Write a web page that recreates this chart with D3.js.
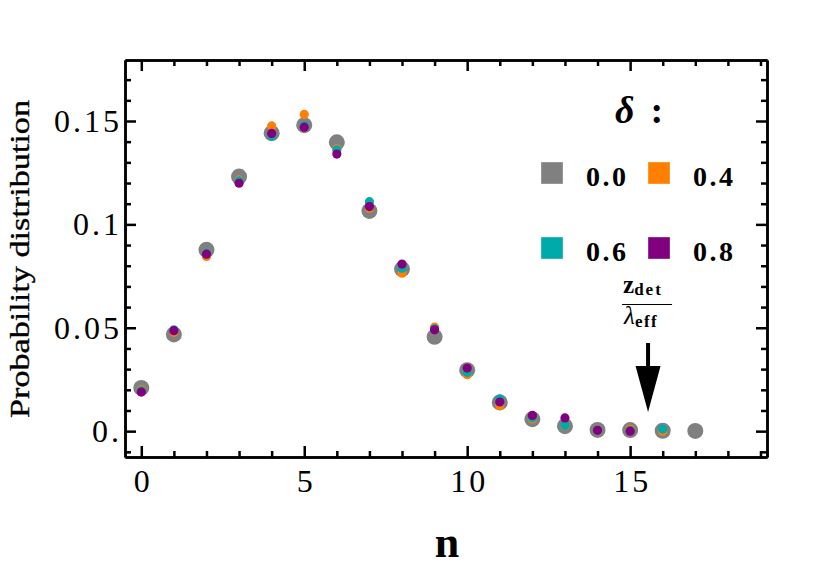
<!DOCTYPE html>
<html lang="en">
<head>
	<meta charset="utf-8">
	<title>Probability distribution</title>
	<script src="https://cdn.jsdelivr.net/npm/d3@7/dist/d3.min.js"></script>
	<style>
		body { margin: 0; background: #fff; }
	</style>
</head>
<body>
<script>

	// Data
	var nGray   = d3.range(0, 18);
	var pGray   = [0.0209, 0.0468, 0.0877, 0.1231, 0.1441, 0.1480, 0.1397, 0.1065, 0.0784, 0.0456,
	               0.0295, 0.0139, 0.0058, 0.0024, 0.0006, 0.0005, 0.0002, 0.0001];
	var pOrange = [0.0200, 0.0478, 0.0845, 0.1215, 0.1476, 0.1532, 0.1365, 0.1078, 0.0764, 0.0503,
	               0.0273, 0.0123, 0.0059, 0.0025, 0.0004, 0.0009, 0.0000];
	var pCyan   = [0.0195, 0.0490, 0.0860, 0.1210, 0.1428, 0.1477, 0.1360, 0.1110, 0.0788, 0.0495,
	               0.0284, 0.0156, 0.0065, 0.0027, 0.0004, 0.0003, 0.0010];
	var pPurple = [0.0189, 0.0486, 0.0856, 0.1199, 0.1440, 0.1470, 0.1340, 0.1086, 0.0808, 0.0490,
	               0.0305, 0.0141, 0.0076, 0.0064, 0.0004, 0.0000];

	var deltaLabels = ["0.0", "0.4", "0.6", "0.8"];
	var seriesColors = ["#808080", "#ff8000", "#00aaaa", "#800080"];

	var xMajor = [0, 5, 10, 15];
	var yMajor = [0, 0.05, 0.1, 0.15];
	var yLabels = ["0.", "0.05", "0.1", "0.15"];
	var arrowN = 15.55;

	var serif = "'Liberation Serif', 'DejaVu Serif', serif";

	// Canvas
	var width = 830, height = 578;
	var frame = {left: 125, right: 767, top: 60, bottom: 457};

	var svg = d3.select("body")
				.append("svg")
				.attr("width", width)
				.attr("height", height)
				.attr("font-family", serif);

	var xScale = d3.scaleLinear().domain([-0.5, 19.2]).range([frame.left, frame.right]);
	var yScale = d3.scaleLinear().domain([-0.0125, 0.1795]).range([frame.bottom, frame.top]);

	var xMinor = d3.range(0, 20).filter(function(d) { return xMajor.indexOf(d) < 0; });
	var yMinor = d3.range(-1, 18).filter(function(d) { return d % 5 !== 0; })
				.map(function(d) { return d / 100; });

	// Draws one side of the frame: major + minor ticks pointing inward
	function drawSide(axisFn, scale, pos, majors, minors, labels) {
		var major = axisFn(scale).tickValues(majors).tickSize(-11).tickSizeOuter(0)
					.tickPadding(labels ? 13 : 0)
					.tickFormat(function(d, i) { return labels ? labels[i] : ""; });
		var minor = axisFn(scale).tickValues(minors).tickSize(-6).tickSizeOuter(0).tickFormat("");
		var g = svg.append("g").attr("transform", pos);
		g.call(minor);
		g.append("g").call(major);
		g.attr("font-family", null);
		g.selectAll("g").attr("font-family", null);
		g.selectAll("path, line").attr("stroke", "#000").attr("stroke-width", 2.5);
		g.selectAll("text").attr("font-size", 32).attr("font-family", serif)
			.attr("letter-spacing", 3);
		return g;
	}

	var gx = drawSide(d3.axisBottom, xScale, "translate(0," + frame.bottom + ")", xMajor, xMinor,
			xMajor.map(String));
	gx.selectAll("text").attr("dx", 1.5).attr("y", 12);
	drawSide(d3.axisTop, xScale, "translate(0," + frame.top + ")", xMajor, xMinor, null);
	var gy = drawSide(d3.axisLeft, yScale, "translate(" + frame.left + ",0)", yMajor, yMinor, yLabels);
	gy.selectAll("text").attr("x", -3);
	drawSide(d3.axisRight, yScale, "translate(" + frame.right + ",0)", yMajor, yMinor, null);

	// Points: gray large ones, then small coloured ones on top
	var allSeries = [pGray, pOrange, pCyan, pPurple];
	allSeries.forEach(function(vals, s) {
		svg.append("g")
			.selectAll("circle")
			.data(vals)
			.enter()
				.append("circle")
				.attr("cx", function(d, i) { return xScale(nGray[i]); })
				.attr("cy", function(d) { return yScale(d); })
				.attr("r", s === 0 ? 8 : 4.6)
				.attr("fill", seriesColors[s]);
	});

	// Axis titles
	svg.append("text")
		.attr("transform", "translate(29,259) rotate(-90)")
		.attr("text-anchor", "middle")
		.attr("font-size", 28)
		.attr("stroke", "#000")
		.attr("stroke-width", 0.35)
		.attr("textLength", 318)
		.attr("lengthAdjust", "spacingAndGlyphs")
		.text("Probability distribution");

	svg.append("text")
		.attr("x", (frame.left + frame.right) / 2 + 1)
		.attr("y", 557)
		.attr("text-anchor", "middle")
		.attr("font-size", 44)
		.attr("font-weight", "bold")
		.text("n");

	// Legend
	var head = svg.append("text")
		.attr("x", 615)
		.attr("y", 123)
		.attr("font-size", 38)
		.attr("font-weight", "bold");
	head.append("tspan").attr("font-style", "italic").text("\u03b4");
	head.append("tspan").attr("dx", 16).text(":");

	var legend = svg.append("g").selectAll("g")
		.data(deltaLabels)
		.enter()
			.append("g")
			.attr("transform", function(d, i) {
				return "translate(" + (541 + (i % 2) * 107) + "," + (162 + Math.floor(i / 2) * 75) + ")";
			});
	legend.append("rect")
		.attr("width", 22).attr("height", 22)
		.attr("fill", function(d, i) { return seriesColors[i]; })
		.attr("stroke", "#fff").attr("stroke-opacity", 0.35).attr("stroke-width", 1);
	legend.append("text")
		.attr("x", 45).attr("y", 24)
		.attr("font-size", 28)
		.attr("font-weight", "bold")
		.attr("letter-spacing", 2.5)
		.text(function(d) { return d; });

	// z_det / lambda_eff annotation with arrow
	var ax = xScale(arrowN);
	var ann = svg.append("g");
	var num = ann.append("text").attr("x", ax - 25).attr("y", 293).attr("font-weight", "bold");
	num.append("tspan").attr("font-size", 25).text("z");
	num.append("tspan").attr("font-size", 17).attr("dy", 2).attr("letter-spacing", 2).text("det");
	ann.append("line")
		.attr("x1", ax - 26).attr("x2", ax + 24)
		.attr("y1", 304.5).attr("y2", 304.5)
		.attr("stroke", "#000").attr("stroke-width", 1.2);
	var den = ann.append("text").attr("x", ax - 24).attr("y", 324);
	den.append("tspan").attr("font-size", 25).attr("font-style", "italic").text("\u03bb");
	den.append("tspan").attr("font-size", 17).attr("font-weight", "bold").attr("dy", 3)
		.attr("letter-spacing", 1.5).text("eff");

	ann.append("line")
		.attr("x1", ax).attr("x2", ax)
		.attr("y1", 343).attr("y2", 370)
		.attr("stroke", "#000").attr("stroke-width", 4);
	ann.append("path")
		.attr("d", "M" + (ax - 12.5) + ",366 L" + (ax + 12.5) + ",366 L" + ax + ",412 Z")
		.attr("fill", "#000");

</script>
</body>
</html>
